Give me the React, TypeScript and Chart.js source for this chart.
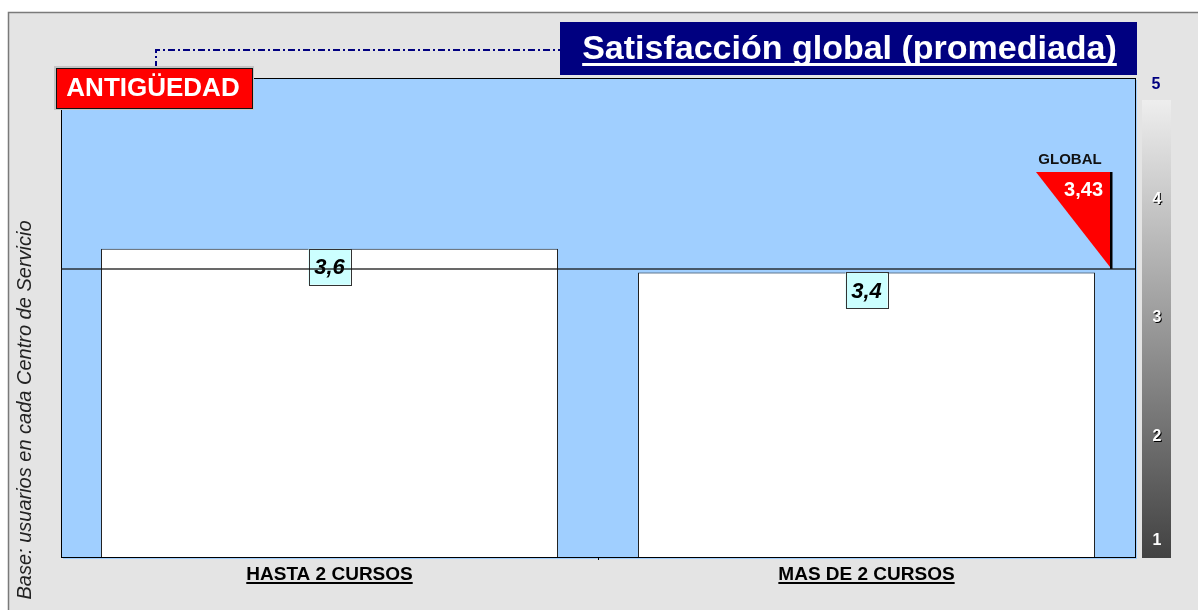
import React, { useEffect, useRef } from "react";
import { Chart, registerables } from "chart.js";

Chart.register(...registerables);

const categories: string[] = ["HASTA 2 CURSOS", "MAS DE 2 CURSOS"];
const values: number[] = [3.6, 3.4];
const valueLabels: string[] = ["3,6", "3,4"];
const globalValue = 3.43;
const globalLabel = "3,43";
const rightTicks: number[] = [5, 4, 3, 2, 1];
const titleText = "Satisfacción global (promediada)";
const segmentText = "ANTIGÜEDAD";
const yAxisTitle = "Base: usuarios en cada Centro de Servicio";

const FONT = 'Arial, "Liberation Sans", sans-serif';

const decorPlugin = {
  id: "decor",
  beforeDraw(chart: any) {
    const { ctx, chartArea: a, width, height } = chart;
    ctx.save();
    ctx.fillStyle = "#ffffff";
    ctx.fillRect(0, 0, width, height);
    ctx.fillStyle = "#e4e4e4";
    ctx.fillRect(8, 12, width - 8, height - 12);
    ctx.strokeStyle = "#7a7a7a";
    ctx.lineWidth = 1.5;
    ctx.beginPath();
    ctx.moveTo(8.5, height);
    ctx.lineTo(8.5, 12.5);
    ctx.lineTo(width, 12.5);
    ctx.stroke();
    ctx.fillStyle = "#a0cfff";
    ctx.fillRect(a.left + 2, a.top + 2, a.right - a.left, a.bottom - a.top);
    ctx.fillRect(a.left, a.top, a.right - a.left, a.bottom - a.top);
    const gx = a.right + 7;
    const gTop = 100;
    const g = ctx.createLinearGradient(0, gTop, 0, a.bottom + 1);
    g.addColorStop(0, "#eeeeee");
    g.addColorStop(1, "#424242");
    ctx.fillStyle = g;
    ctx.fillRect(gx, gTop, 29, a.bottom + 1 - gTop);
    ctx.restore();
  },
  afterDatasetsDraw(chart: any) {
    const { ctx, chartArea: a } = chart;
    const xs = chart.scales.x;
    const ys = chart.scales.y;
    ctx.save();
    ctx.strokeStyle = "#000000";
    ctx.lineWidth = 1;
    ctx.strokeRect(a.left + 0.5, a.top + 0.5, a.right - a.left, a.bottom - a.top);
    const mx = Math.round((a.left + a.right) / 2) + 0.5;
    ctx.beginPath();
    ctx.moveTo(mx, a.bottom);
    ctx.lineTo(mx, a.bottom + 3);
    ctx.stroke();

    // value boxes
    const meta = chart.getDatasetMeta(0);
    meta.data.forEach((bar: any, i: number) => {
      const cx = bar.x;
      const top = bar.y;
      const w = 42, h = 36;
      ctx.fillStyle = "#ccffff";
      ctx.fillRect(cx - w / 2, top, w, h);
      ctx.strokeStyle = "#333";
      ctx.lineWidth = 1;
      ctx.strokeRect(Math.round(cx - w / 2) + 0.5, Math.round(top) + 0.5, w, h);
      ctx.fillStyle = "#000";
      ctx.font = `italic bold 22px ${FONT}`;
      ctx.textAlign = "center";
      ctx.textBaseline = "middle";
      ctx.fillText(valueLabels[i], cx, top + h / 2 + 1);
    });

    // global line
    const gy = ys.getPixelForValue(globalValue);
    ctx.strokeStyle = "rgba(20,20,20,0.85)";
    ctx.lineWidth = 1.5;
    ctx.beginPath();
    ctx.moveTo(a.left, gy);
    ctx.lineTo(a.right, gy);
    ctx.stroke();

    // global triangle
    const tx = a.right - 25;
    const tTop = 172;
    ctx.fillStyle = "#000";
    ctx.fillRect(tx, tTop, 2.5, gy - tTop);
    ctx.fillStyle = "#ff0000";
    ctx.beginPath();
    ctx.moveTo(tx - 74, tTop);
    ctx.lineTo(tx, tTop);
    ctx.lineTo(tx, gy - 2);
    ctx.closePath();
    ctx.fill();
    ctx.fillStyle = "#ffffff";
    ctx.font = `bold 20px ${FONT}`;
    ctx.textAlign = "right";
    ctx.textBaseline = "middle";
    ctx.fillText(globalLabel, tx - 7, tTop + 18);
    ctx.fillStyle = "#111";
    ctx.font = `bold 15px ${FONT}`;
    ctx.textAlign = "center";
    ctx.fillText("GLOBAL", tx - 40, tTop - 12);

    // category labels
    ctx.font = `bold 19px ${FONT}`;
    ctx.textBaseline = "alphabetic";
    ctx.fillStyle = "#000";
    categories.forEach((c, i) => {
      const cx = xs.getPixelForValue(i);
      ctx.textAlign = "center";
      ctx.fillText(c, cx, a.bottom + 23);
      const tw = ctx.measureText(c).width;
      ctx.fillRect(cx - tw / 2, a.bottom + 25, tw, 2);
    });

    // right scale labels
    ctx.font = `bold 16px ${FONT}`;
    ctx.textAlign = "center";
    ctx.textBaseline = "middle";
    const lx = a.right + 22;
    rightTicks.forEach((t) => {
      let y = ys.getPixelForValue(t);
      y = Math.max(a.top + 7, Math.min(a.bottom - 16, y - 2));
      if (t === 5) {
        ctx.fillStyle = "#000080";
        ctx.fillText(String(t), lx - 1, y);
      } else {
        if (t !== 1) {
          ctx.fillStyle = "#000";
          ctx.fillText(String(t), lx + 1, y + 1);
        }
        ctx.fillStyle = "#fff";
        ctx.fillText(String(t), lx, y);
      }
    });

    // connector dash-dot line
    ctx.strokeStyle = "#000080";
    ctx.lineWidth = 2;
    ctx.setLineDash([7, 3, 2, 3]);
    ctx.beginPath();
    ctx.moveTo(156, 68);
    ctx.lineTo(156, 50);
    ctx.lineTo(560, 50);
    ctx.stroke();
    ctx.setLineDash([]);

    // title box
    ctx.fillStyle = "#000080";
    ctx.fillRect(560, 22, 577, 53);
    ctx.fillStyle = "#ffffff";
    ctx.font = `bold 34px ${FONT}`;
    ctx.textAlign = "center";
    ctx.textBaseline = "alphabetic";
    const tcx = 560 + 577 / 2 + 1;
    ctx.fillText(titleText, tcx, 59);
    const ttw = ctx.measureText(titleText).width;
    ctx.fillRect(tcx - ttw / 2, 63, ttw, 3);

    // segment box
    ctx.fillStyle = "#c4c4c4";
    ctx.fillRect(54, 66, 200, 44);
    ctx.fillStyle = "#ff0000";
    ctx.fillRect(56, 68, 196, 40);
    ctx.strokeStyle = "#111";
    ctx.lineWidth = 1;
    ctx.strokeRect(56.5, 68.5, 196, 40);
    ctx.fillStyle = "#ffffff";
    ctx.font = `bold 26px ${FONT}`;
    ctx.textAlign = "center";
    ctx.textBaseline = "middle";
    ctx.fillText(segmentText, 153, 89);

    // y axis title
    ctx.save();
    ctx.translate(25, 410);
    ctx.rotate(-Math.PI / 2);
    ctx.fillStyle = "#222";
    ctx.font = `italic 20px ${FONT}`;
    ctx.textAlign = "center";
    ctx.textBaseline = "middle";
    ctx.fillText(yAxisTitle, 0, 0);
    ctx.restore();

    ctx.restore();
  },
};

export default function App() {
  const ref = useRef<HTMLCanvasElement | null>(null);
  useEffect(() => {
    if (!ref.current) return;
    const chart = new Chart(ref.current, {
      type: "bar",
      data: {
        labels: categories,
        datasets: [
          {
            data: values,
            backgroundColor: "#ffffff",
            borderColor: "#222222",
            borderWidth: 1,
            borderSkipped: false,
            barPercentage: 0.851,
            categoryPercentage: 1,
          },
        ],
      },
      options: {
        animation: false,
        responsive: false,
        devicePixelRatio: 1,
        layout: { padding: { left: 61, top: 78, right: 63, bottom: 53 } },
        plugins: { legend: { display: false }, tooltip: { enabled: false } },
        scales: {
          x: { display: false },
          y: { display: false, min: 1, max: 5.04 },
        },
      },
      plugins: [decorPlugin],
    });
    return () => chart.destroy();
  }, []);
  return (
    <div style={{ position: "fixed", left: 0, top: 0, width: 1198, height: 610 }}>
      <canvas ref={ref} width={1198} height={610} style={{ display: "block" }} />
    </div>
  );
}
